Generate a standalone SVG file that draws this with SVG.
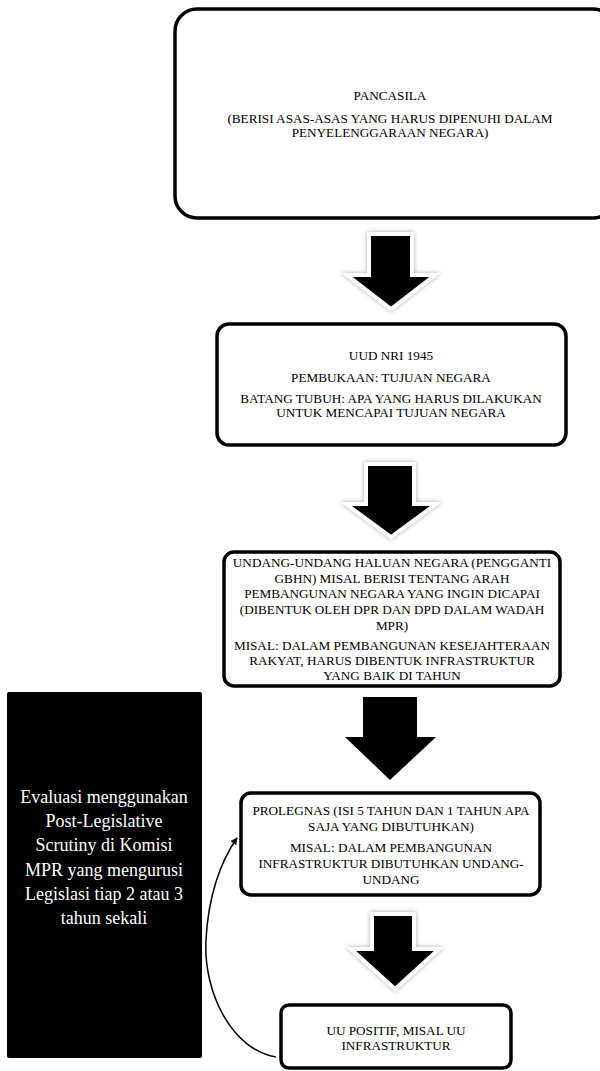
<svg xmlns="http://www.w3.org/2000/svg" width="600" height="1071" viewBox="0 0 600 1071">
  <style>
    .box { fill: #ffffff; stroke: #000000; stroke-width: 3.5; }
    .t { font-family: "Liberation Serif", "Times New Roman", serif; font-size: 13.2px; fill: #000000; text-anchor: middle; }
    .tw { font-family: "Liberation Serif", "Times New Roman", serif; font-size: 18px; fill: #ffffff; text-anchor: middle; }
    .arrow { fill: #000000; stroke: #ffffff; stroke-width: 4; stroke-linejoin: miter; }
    .plain { fill: #000000; }
    .link { fill: none; stroke: #000000; stroke-width: 1.5; }
  </style>
  <defs>
    <filter id="glow" x="-30%" y="-30%" width="160%" height="160%">
      <feGaussianBlur in="SourceAlpha" stdDeviation="2.2" result="b"/>
      <feFlood flood-color="#808080" flood-opacity="0.7"/>
      <feComposite in2="b" operator="in" result="s"/>
      <feMerge>
        <feMergeNode in="s"/>
        <feMergeNode in="SourceGraphic"/>
      </feMerge>
    </filter>
    <marker id="head" viewBox="0 0 10 10" refX="9" refY="5" markerWidth="7" markerHeight="7" orient="auto" markerUnits="userSpaceOnUse">
      <path d="M0,0 L10,5 L0,10 Z" fill="#000000"/>
    </marker>
  </defs>

  <rect width="600" height="1071" fill="#ffffff"/>

  <!-- Pancasila -->
  <g id="pancasila">
    <rect class="box" x="175" y="9" width="440" height="209" rx="22" ry="22" stroke-width="4"/>
    <text class="t" x="390" y="100">PANCASILA</text>
    <text class="t" x="390" y="123">(BERISI ASAS-ASAS YANG HARUS DIPENUHI DALAM</text>
    <text class="t" x="390" y="137">PENYELENGGARAAN NEGARA)</text>
  </g>

  <!-- UUD NRI 1945 -->
  <g id="uud">
    <rect class="box" x="217" y="324" width="349" height="121" rx="12" ry="12"/>
    <text class="t" x="391" y="360">UUD NRI 1945</text>
    <text class="t" x="391" y="382">PEMBUKAAN: TUJUAN NEGARA</text>
    <text class="t" x="391" y="403">BATANG TUBUH: APA YANG HARUS DILAKUKAN</text>
    <text class="t" x="391" y="417">UNTUK MENCAPAI TUJUAN NEGARA</text>
  </g>

  <!-- Undang-Undang Haluan Negara -->
  <g id="uuhn">
    <rect class="box" x="224" y="552" width="336" height="134" rx="10" ry="10"/>
    <text class="t" x="392" y="567">UNDANG-UNDANG HALUAN NEGARA (PENGGANTI</text>
    <text class="t" x="392" y="583">GBHN) MISAL BERISI TENTANG ARAH</text>
    <text class="t" x="392" y="598">PEMBANGUNAN NEGARA YANG INGIN DICAPAI</text>
    <text class="t" x="392" y="614">(DIBENTUK OLEH DPR DAN DPD DALAM WADAH</text>
    <text class="t" x="392" y="630">MPR)</text>
    <text class="t" x="392" y="650">MISAL: DALAM PEMBANGUNAN KESEJAHTERAAN</text>
    <text class="t" x="392" y="665">RAKYAT, HARUS DIBENTUK INFRASTRUKTUR</text>
    <text class="t" x="392" y="680">YANG BAIK DI TAHUN</text>
  </g>

  <!-- Evaluation panel -->
  <g id="evaluasi">
    <rect x="7" y="692" width="195" height="366" rx="2" ry="2" fill="#000000"/>
    <text class="tw" x="104" y="803">Evaluasi menggunakan</text>
    <text class="tw" x="104" y="827">Post-Legislative</text>
    <text class="tw" x="104" y="851">Scrutiny di Komisi</text>
    <text class="tw" x="104" y="876">MPR yang mengurusi</text>
    <text class="tw" x="104" y="900">Legislasi tiap 2 atau 3</text>
    <text class="tw" x="104" y="924">tahun sekali</text>
  </g>

  <!-- Prolegnas -->
  <g id="prolegnas">
    <rect class="box" x="241" y="793" width="299" height="102" rx="10" ry="10"/>
    <text class="t" x="391" y="815">PROLEGNAS (ISI 5 TAHUN DAN 1 TAHUN APA</text>
    <text class="t" x="391" y="831">SAJA YANG DIBUTUHKAN)</text>
    <text class="t" x="391" y="852">MISAL: DALAM PEMBANGUNAN</text>
    <text class="t" x="391" y="868">INFRASTRUKTUR DIBUTUHKAN UNDANG-</text>
    <text class="t" x="391" y="884">UNDANG</text>
  </g>

  <!-- UU Positif -->
  <g id="uupositif">
    <rect class="box" x="281" y="1005" width="230" height="63" rx="8" ry="8" stroke-width="3"/>
    <text class="t" x="396" y="1035">UU POSITIF, MISAL UU</text>
    <text class="t" x="396" y="1050">INFRASTRUKTUR</text>
  </g>

  <!-- Connectors -->
  <g id="connectors">
    <polygon class="arrow" filter="url(#glow)" points="369,234 412,234 412,275 435,275 391,309 347,275 369,275"/>
    <polygon class="arrow" filter="url(#glow)" points="366,464 414,464 414,504 436,504 391,537 346,504 366,504"/>
    <polygon class="plain" points="363,697 417,697 417,737 436,737 390,780 345,737 363,737"/>
    <polygon class="arrow" filter="url(#glow)" points="372,914 414,914 414,949 439,949 395,989 351,949 372,949"/>
    <path class="link" d="M 276 1057 C 232 1050, 203 992, 206 940 C 208 898, 220 862, 237 838" marker-end="url(#head)"/>
  </g>
</svg>
